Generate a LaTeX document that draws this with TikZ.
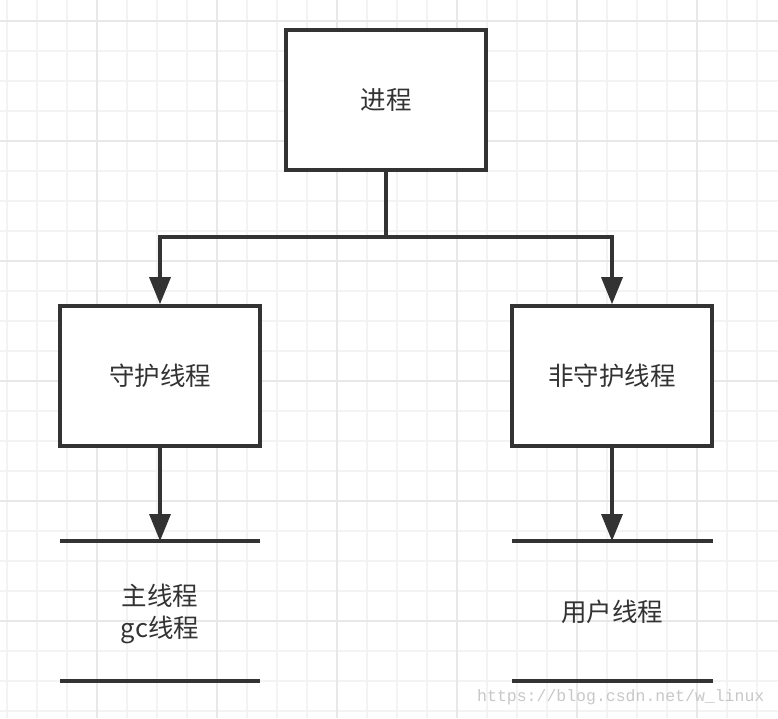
\documentclass[tikz,border=0pt]{standalone}
\usepackage{fontspec}
\setmainfont{Noto Sans CJK SC}
\newfontfamily\wmfont{Liberation Mono}
\usetikzlibrary{arrows.meta}
\definecolor{ink}{HTML}{333333}
\definecolor{gridminor}{HTML}{F3F3F3}
\definecolor{gridmajor}{HTML}{E8E8E8}
\definecolor{wmgray}{HTML}{C8C8C8}
\tikzset{
  box/.style={draw=ink, line width=3.6pt, fill=white, minimum width=200pt, minimum height=140pt, inner sep=0pt, font=\fontsize{25.5}{30}\selectfont, text=ink},
  conn/.style={draw=ink, line width=3.4pt, -{Triangle[length=27pt,width=21pt]}},
  bar/.style={draw=ink, line width=3.6pt},
  lbl/.style={font=\fontsize{25.5}{32}\selectfont, text=ink, align=center},
}
\begin{document}
\begin{tikzpicture}[x=1pt,y=-1pt]
\useasboundingbox (0,0) rectangle (778,718);
\fill[white] (0,0) rectangle (778,718);
% grid
\foreach \x in {7,37,...,777} \draw[gridminor, line width=1.2pt] (\x,0) -- (\x,718);
\foreach \y in {21,51,...,717} \draw[gridminor, line width=1.2pt] (0,\y) -- (778,\y);
\foreach \x in {97,217,...,777} \draw[gridmajor, line width=1.5pt] (\x,0) -- (\x,718);
\foreach \y in {21,141,...,717} \draw[gridmajor, line width=1.5pt] (0,\y) -- (778,\y);
% boxes
\node[box] (p) at (386,100) {进程};
\node[box] (l) at (160,376) {守护线程};
\node[box] (r) at (612,376) {非守护线程};
\coordinate (j) at (386,237);
\draw[conn] (p.south) -- (j) -| (l.north);
\draw[conn] (j) -| (r.north);
% bars
\coordinate (l1a) at (60,541); \coordinate (l1b) at (260,541);
\coordinate (l2a) at (60,681); \coordinate (l2b) at (260,681);
\coordinate (r1a) at (512,541); \coordinate (r1b) at (713,541);
\coordinate (r2a) at (512,681); \coordinate (r2b) at (713,681);
\draw[bar] (l1a) -- (l1b);
\draw[bar] (l2a) -- (l2b);
\draw[bar] (r1a) -- (r1b);
\draw[bar] (r2a) -- (r2b);
\coordinate (lm) at (160,541);
\coordinate (rm) at (612,541);
\draw[conn] (l.south) -- (lm);
\draw[conn] (r.south) -- (rm);
% labels
\node[lbl] (lt) at (160,614) {主线程\\gc线程};
\node[lbl] (rt) at (612,612) {用户线程};
% watermark
\node[wmgray, font=\wmfont\fontsize{16.5}{18}\selectfont, anchor=west, inner sep=0pt] (wm) at (477,697) {https://blog.csdn.net/w\_linux};
\end{tikzpicture}
\end{document}
